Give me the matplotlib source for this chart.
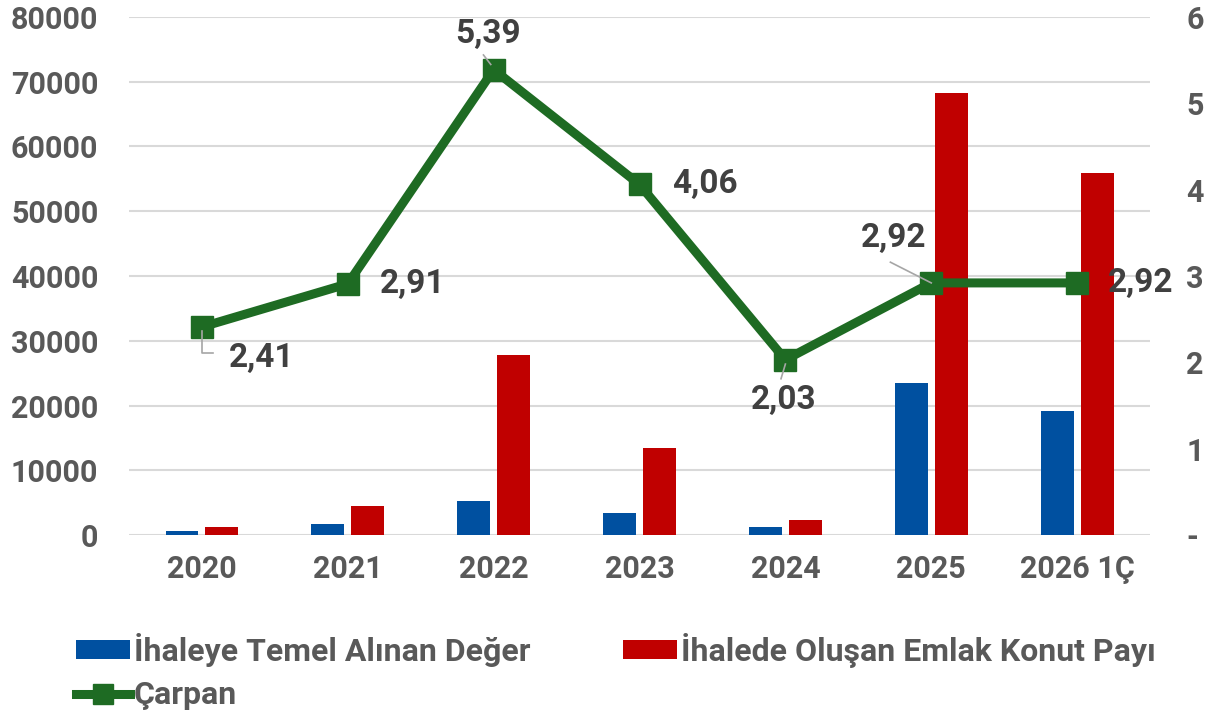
import matplotlib
matplotlib.use("Agg")
import matplotlib.pyplot as plt
from matplotlib.lines import Line2D
from matplotlib.patches import Patch
import numpy as np

plt.rcParams['font.family'] = ['Roboto', 'DejaVu Sans']
plt.rcParams['font.weight'] = 'bold'

categories = ["2020", "2021", "2022", "2023", "2024", "2025", "2026 1Ç"]
temel = [620, 1700, 5250, 3400, 1230, 23450, 19150]
emlak_payi = [1230, 4480, 27800, 13440, 2300, 68250, 55900]
carpan = [2.41, 2.91, 5.39, 4.06, 2.03, 2.92, 2.92]
carpan_labels = ["2,41", "2,91", "5,39", "4,06", "2,03", "2,92", "2,92"]

left_ticks = [0, 10000, 20000, 30000, 40000, 50000, 60000, 70000, 80000]
right_ticks = [0, 1, 2, 3, 4, 5, 6]
right_tick_labels = ["-", "1", "2", "3", "4", "5", "6"]

BLUE = "#0050A0"
RED = "#C00000"
GREEN = "#1E6B23"
GRAY = "#595959"
DARK = "#404040"

fig = plt.figure(figsize=(12.22, 7.23), dpi=100)
ax = fig.add_axes([0.1056, 0.26, 0.8355, 0.7165])
x = np.arange(len(categories))
w = 0.226
off = 0.137
ax.bar(x - off, temel, w, color=BLUE, zorder=2)
ax.bar(x + off, emlak_payi, w, color=RED, zorder=2)
ax.set_xlim(-0.5, len(categories) - 0.5)
ax.set_ylim(0, 80000)
ax.set_yticks(left_ticks)
ax.set_yticklabels([str(t) for t in left_ticks])
ax.grid(axis='y', color="#D9D9D9", linewidth=1.5, zorder=0)
ax.set_axisbelow(True)
for s in ax.spines.values():
    s.set_visible(False)
ax.tick_params(axis='both', length=0, labelsize=22, labelcolor=GRAY, pad=8)
ax.tick_params(axis='y', pad=22)
ax.set_xticks(x)
ax.set_xticklabels(categories)
ax.tick_params(axis='x', pad=14)

ax2 = ax.twinx()
ax2.set_ylim(0, 6)
ax2.set_yticks(right_ticks)
ax2.set_yticklabels(right_tick_labels)
for s in ax2.spines.values():
    s.set_visible(False)
ax2.tick_params(axis='y', length=0, labelsize=22, labelcolor=GRAY, pad=26)
ax2.plot(x, carpan, color=GREEN, linewidth=6.5, marker='s', markersize=16,
         zorder=3, solid_joinstyle='miter')

# data labels (offsets in points)
offsets = [(43, -22), (47, 0), (-4, 26), (47, 0), (-1.5, -29), (-27, 32), (46, 0)]
for i, (v, lab) in enumerate(zip(carpan, carpan_labels)):
    ax2.annotate(lab, (x[i], v), xytext=offsets[i], textcoords='offset points',
                 ha='center', va='center', fontsize=24, color=DARK,
                 fontweight='bold', zorder=5)

# leader lines
lc = "#A6A6A6"
def leader(xs, ys):
    ax2.plot(xs, ys, color=lc, linewidth=1.2, zorder=4)
leader([x[0], x[0], x[0] + 0.075], [carpan[0] - 0.05, carpan[0] - 0.30, carpan[0] - 0.30])
leader([x[2] - 0.07, x[2] - 0.02], [carpan[2] + 0.17, carpan[2] + 0.06])
leader([x[4] - 0.03, x[4]], [carpan[4] - 0.22, carpan[4] - 0.05])
leader([x[5] - 0.28, x[5]], [carpan[5] + 0.24, carpan[5] + 0.0])

handles = [Patch(facecolor=BLUE),
           Line2D([0], [0], color=GREEN, linewidth=6.5, marker='s', markersize=14),
           Patch(facecolor=RED)]
labels = ["İhaleye Temel Alınan Değer", "Çarpan", "İhalede Oluşan Emlak Konut Payı"]
fig.legend(handles, labels, ncol=2, loc='upper left', bbox_to_anchor=(0.062, 0.125),
           frameon=False, fontsize=23, labelcolor=GRAY, handlelength=1.7,
           handleheight=0.55, handletextpad=0.12, columnspacing=2.9,
           labelspacing=0.42, borderaxespad=0, borderpad=0)

fig.savefig("out.png", dpi=100)
